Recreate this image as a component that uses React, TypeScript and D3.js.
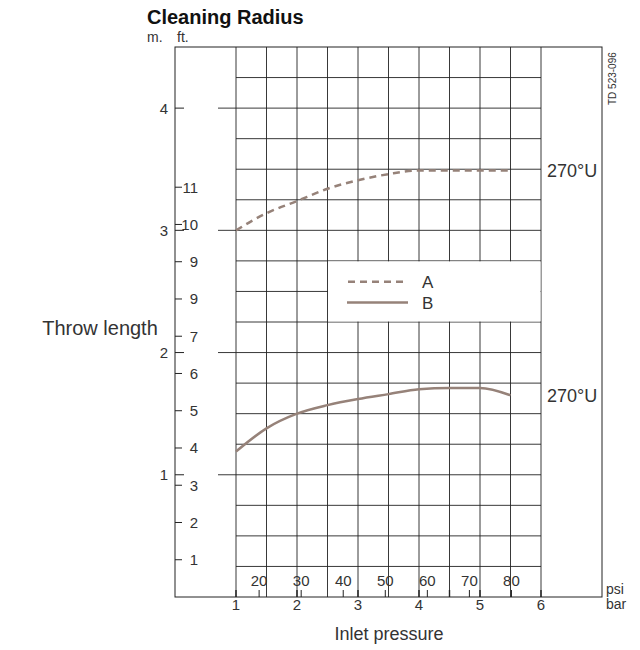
import React from "react";
import * as d3 from "d3";

// pressure in bar, throw length in metres
const barSteps = [1, 1.5, 2, 2.5, 3, 3.5, 4, 4.5, 5, 5.5];
const seriesA = [3.0, 3.14, 3.24, 3.34, 3.41, 3.46, 3.49, 3.49, 3.49, 3.49];
const seriesB = [1.19, 1.38, 1.5, 1.57, 1.62, 1.66, 1.7, 1.71, 1.71, 1.65];

const barTicks = [1, 2, 3, 4, 5, 6];
const psiTicks = [20, 30, 40, 50, 60, 70, 80];
const meterTicks = [1, 2, 3, 4];
const feetTicks = [1, 2, 3, 4, 5, 6, 7, 8, 9, 10, 11];
const feetLabels = ["1", "2", "3", "4", "5", "6", "7", "9", "9", "10", "11"];

const W = 640;
const H = 650;
const frame = { left: 175, right: 602, top: 47, bottom: 597 };
const ink = "#222";
const curveColor = "#968279";
const font = "'Liberation Sans', Arial, sans-serif";

const App: React.FC = () => {
  const x = d3.scaleLinear().domain([0, 7]).range([frame.left, frame.right]);
  const y = d3.scaleLinear().domain([0, 4.5]).range([frame.bottom, frame.top]);
  const psiToBar = (p: number) => p / 14.5038;
  const ftToM = (f: number) => f * 0.3048;

  const gridX0 = x(1);
  const gridX1 = x(6);

  const vLines = d3.range(1, 6.01, 0.5);
  const hLines = d3.range(0.25, 4.26, 0.25);

  const line = d3
    .line<[number, number]>()
    .x((d) => x(d[0]))
    .y((d) => y(d[1]))
    .curve(d3.curveMonotoneX);

  const ptsA = barSteps.map((b, i) => [b, seriesA[i]] as [number, number]);
  const ptsB = barSteps.map((b, i) => [b, seriesB[i]] as [number, number]);

  const legend = { x0: x(2.5), x1: x(6), y0: y(2.75), y1: y(2.25) };

  return (
    <svg
      width={W}
      height={H}
      style={{ position: "absolute", left: 0, top: 0, background: "#fff" }}
      fontFamily={font}
    >
      {/* grid */}
      <g stroke={ink} strokeWidth={0.9}>
        {vLines.map((v) => (
          <line key={`v${v}`} x1={x(v)} x2={x(v)} y1={frame.top} y2={frame.bottom} />
        ))}
        {hLines.map((h) => {
          const major = Number.isInteger(h);
          return (
            <line
              key={`h${h}`}
              x1={major ? 218 : gridX0}
              x2={gridX1}
              y1={y(h)}
              y2={y(h)}
            />
          );
        })}
      </g>

      {/* legend box */}
      <rect
        x={legend.x0 + 0.5}
        y={legend.y0 + 0.5}
        width={legend.x1 - legend.x0 - 1}
        height={legend.y1 - legend.y0 - 1}
        fill="#fff"
      />
      <line
        x1={348}
        x2={408}
        y1={y(2.58)}
        y2={y(2.58)}
        stroke={curveColor}
        strokeWidth={2.5}
        strokeDasharray="7 5"
      />
      <text x={422} y={y(2.58)} dy="0.36em" fontSize={17} fill="#333">
        A
      </text>
      <line x1={347} x2={408} y1={y(2.41)} y2={y(2.41)} stroke={curveColor} strokeWidth={2.5} />
      <text x={422} y={y(2.41)} dy="0.36em" fontSize={17} fill="#333">
        B
      </text>

      {/* frame */}
      <rect
        x={frame.left}
        y={frame.top}
        width={frame.right - frame.left}
        height={frame.bottom - frame.top}
        fill="none"
        stroke={ink}
        strokeWidth={1}
      />

      {/* curves */}
      <path d={line(ptsA) ?? ""} fill="none" stroke={curveColor} strokeWidth={2.5} strokeDasharray="7 5" />
      <path d={line(ptsB) ?? ""} fill="none" stroke={curveColor} strokeWidth={2.5} />

      {/* metre axis */}
      {meterTicks.map((m) => (
        <g key={`m${m}`}>
          <line x1={frame.left} x2={frame.left + 9} y1={y(m)} y2={y(m)} stroke={ink} />
          <text x={168} y={y(m)} dy="0.36em" textAnchor="end" fontSize={15} fill="#333">
            {m}
          </text>
        </g>
      ))}
      {/* feet axis */}
      {feetTicks.map((f, i) => (
        <g key={`f${f}`}>
          <line x1={frame.left} x2={frame.left + 7} y1={y(ftToM(f))} y2={y(ftToM(f))} stroke={ink} />
          <text x={198} y={y(ftToM(f))} dy="0.36em" textAnchor="end" fontSize={15} fill="#333">
            {feetLabels[i]}
          </text>
        </g>
      ))}

      {/* bar axis */}
      {barTicks.map((b) => (
        <g key={`b${b}`}>
          <line x1={x(b)} x2={x(b)} y1={frame.bottom} y2={frame.bottom - 7} stroke={ink} strokeWidth={1.4} />
          <text x={x(b)} y={frame.bottom + 13} textAnchor="middle" fontSize={15} fill="#333">
            {b}
          </text>
        </g>
      ))}
      <line x1={x(4.5)} x2={x(4.5)} y1={frame.bottom} y2={frame.bottom - 7} stroke={ink} strokeWidth={1.4} />
      {/* psi axis */}
      {psiTicks.map((p) => (
        <g key={`p${p}`}>
          <line
            x1={x(psiToBar(p))}
            x2={x(psiToBar(p))}
            y1={frame.bottom}
            y2={frame.bottom - 7}
            stroke={ink}
          />
          <text x={x(psiToBar(p))} y={frame.bottom - 11} textAnchor="middle" fontSize={15} fill="#333">
            {p}
          </text>
        </g>
      ))}

      {/* labels */}
      <text x={147} y={24} fontSize={20} fontWeight="bold" fill="#111">
        Cleaning Radius
      </text>
      <text x={147} y={42} fontSize={14} fill="#333">
        m.
      </text>
      <text x={177} y={42} fontSize={14} fill="#333">
        ft.
      </text>
      <text x={100} y={328} dy="0.36em" textAnchor="middle" fontSize={20} fill="#333">
        Throw length
      </text>
      <text x={389} y={640} textAnchor="middle" fontSize={18} fill="#333">
        Inlet pressure
      </text>
      <text x={606} y={594} fontSize={14} fill="#333">
        psi
      </text>
      <text x={606} y={609} fontSize={14} fill="#333">
        bar
      </text>
      <text x={547} y={y(3.49)} dy="0.36em" fontSize={18} fill="#333">
        270°U
      </text>
      <text x={547} y={y(1.65)} dy="0.36em" fontSize={18} fill="#333">
        270°U
      </text>
      <text
        transform={`translate(616,105) rotate(-90)`}
        fontSize={10}
        fill="#333"
      >
        TD 523-096
      </text>
    </svg>
  );
};

export default App;
